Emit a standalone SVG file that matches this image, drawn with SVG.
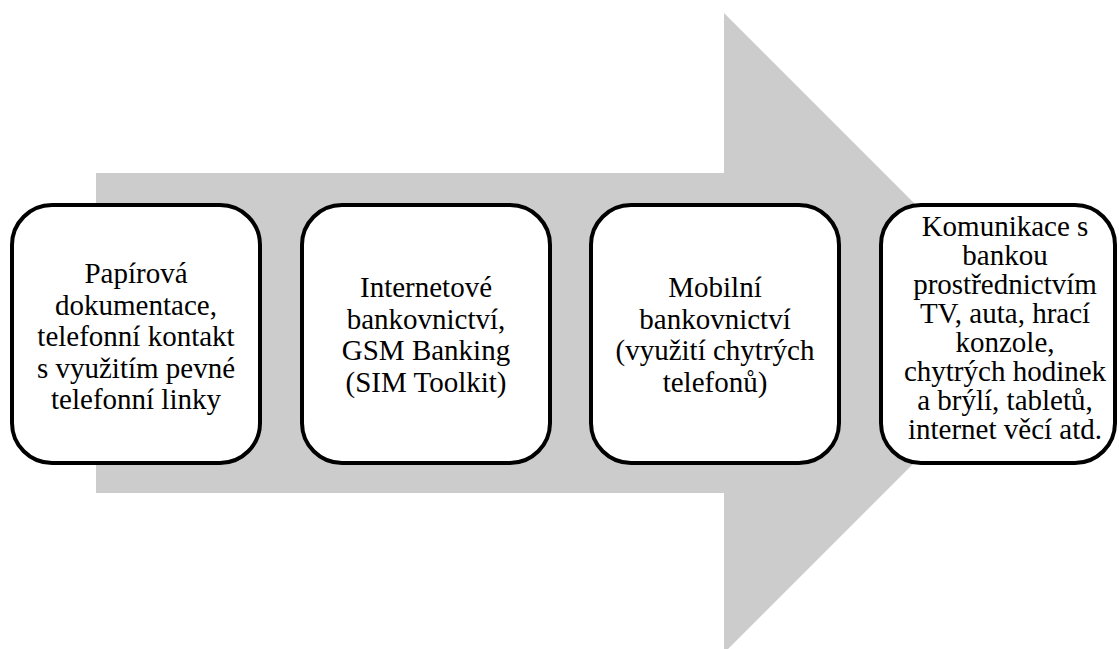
<svg xmlns="http://www.w3.org/2000/svg" width="1119" height="649" viewBox="0 0 1119 649">
<style>
.box{fill:#fff;stroke:#000;stroke-width:4}
.t{font-size:29px;fill:#000;text-anchor:middle}
</style>
<rect width="1119" height="649" fill="#fff"/>
<g id="arrow">
<polygon points="96,173 724,173 724,13 1044,333 724,653 724,493 96,493" fill="#cccccc"/>
</g>
<g font-family="Liberation Serif, Times New Roman, DejaVu Serif, serif">
<g id="node1">
<rect class="box" x="12" y="205" width="248" height="258" rx="40"/>
<text class="t" x="136" y="283">Papírová</text>
<text class="t" x="136" y="314.5">dokumentace,</text>
<text class="t" x="136" y="346">telefonní kontakt</text>
<text class="t" x="136" y="377.5">s využitím pevné</text>
<text class="t" x="136" y="409">telefonní linky</text>
</g>
<g id="node2">
<rect class="box" x="302" y="205" width="248" height="258" rx="40"/>
<text class="t" x="426" y="297">Internetové</text>
<text class="t" x="426" y="328.5">bankovnictví,</text>
<text class="t" x="426" y="360">GSM Banking</text>
<text class="t" x="426" y="391.5">(SIM Toolkit)</text>
</g>
<g id="node3">
<rect class="box" x="591" y="205" width="248" height="258" rx="40"/>
<text class="t" x="715" y="297">Mobilní</text>
<text class="t" x="715" y="328.5">bankovnictví</text>
<text class="t" x="715" y="360">(využití chytrých</text>
<text class="t" x="715" y="391.5">telefonů)</text>
</g>
<g id="node4">
<rect class="box" x="881" y="205" width="234" height="258" rx="40"/>
<text class="t" x="1005" y="236">Komunikace s</text>
<text class="t" x="1005" y="265">bankou</text>
<text class="t" x="1005" y="294">prostřednictvím</text>
<text class="t" x="1005" y="323">TV, auta, hrací</text>
<text class="t" x="1005" y="352">konzole,</text>
<text class="t" x="1005" y="381">chytrých hodinek</text>
<text class="t" x="1005" y="410">a brýlí, tabletů,</text>
<text class="t" x="1005" y="439">internet věcí atd.</text>
</g>
</g>
<g id="connectors"></g>
</svg>
